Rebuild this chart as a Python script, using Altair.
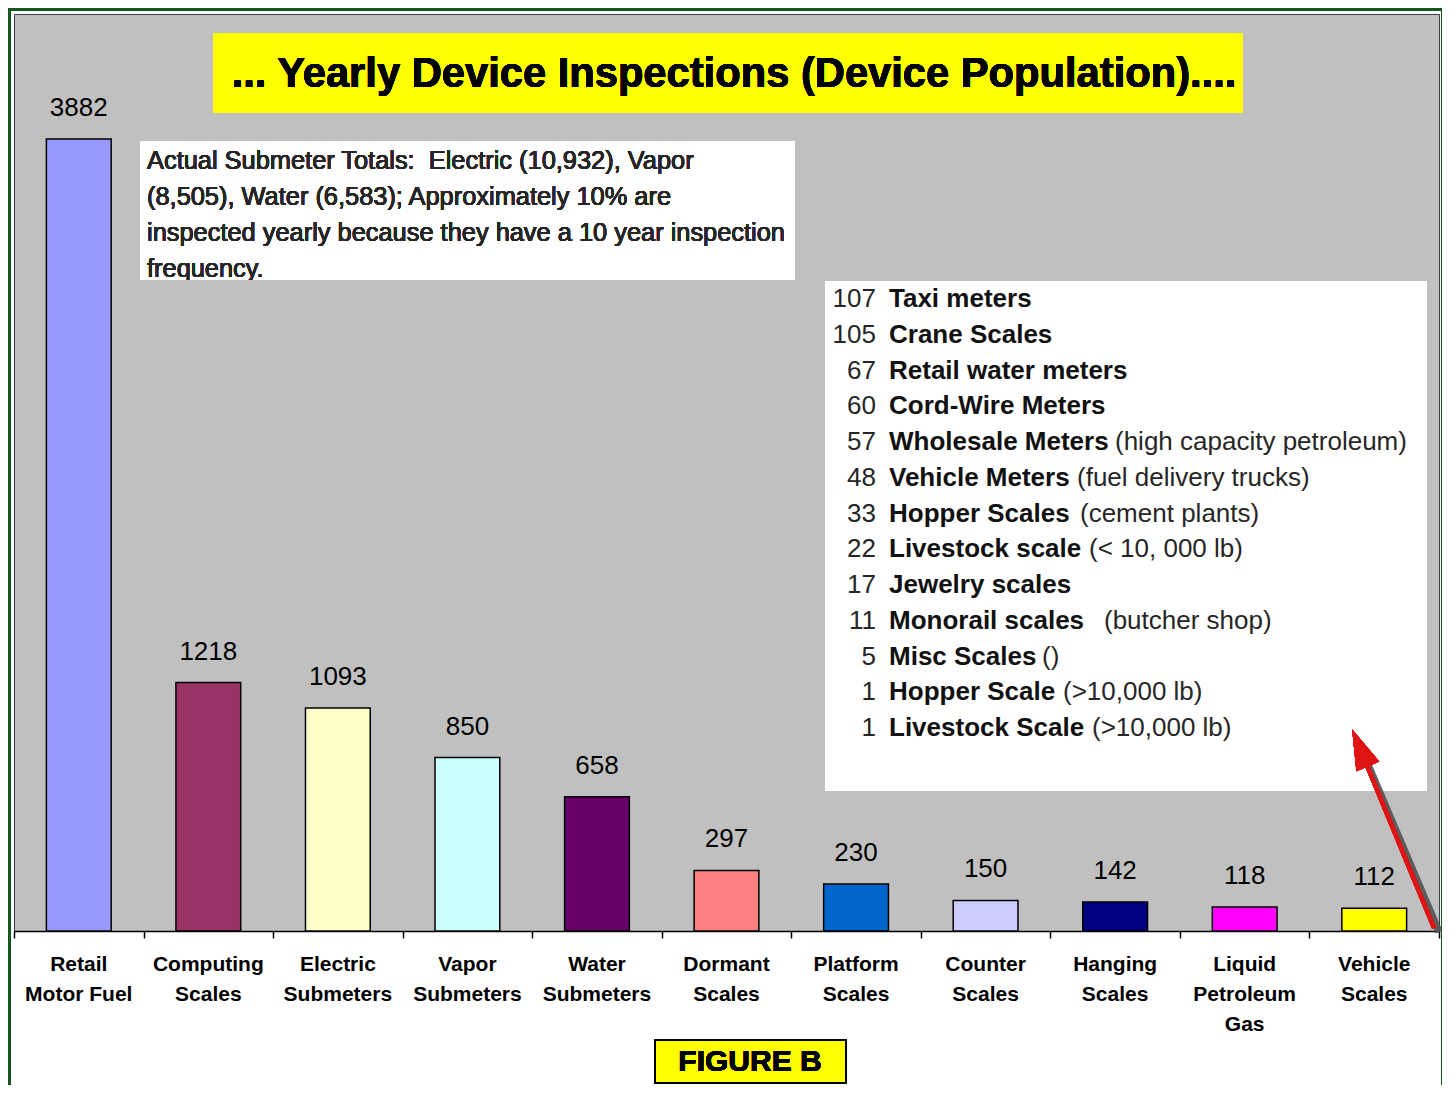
import altair as alt
import pandas as pd

# ---- data ----
categories = ["Retail\nMotor Fuel", "Computing\nScales", "Electric\nSubmeters",
              "Vapor\nSubmeters", "Water\nSubmeters", "Dormant\nScales",
              "Platform\nScales", "Counter\nScales", "Hanging\nScales",
              "Liquid\nPetroleum\nGas", "Vehicle\nScales"]
values = [3882, 1218, 1093, 850, 658, 297, 230, 150, 142, 118, 112]
bar_colors = ["#9999ff", "#993366", "#ffffcc", "#ccffff", "#660066", "#ff8080",
              "#0066cc", "#ccccff", "#000080", "#ff00ff", "#ffff00"]

other_counts = ["107", "105", "67", "60", "57", "48", "33", "22", "17", "11", "5", "1", "1"]
other_names = ["Taxi meters", "Crane Scales", "Retail water meters", "Cord-Wire Meters",
               "Wholesale Meters", "Vehicle Meters", "Hopper Scales", "Livestock scale",
               "Jewelry scales", "Monorail scales", "Misc Scales", "Hopper Scale",
               "Livestock Scale"]
other_notes = ["", "", "", "", "(high capacity petroleum)", "(fuel delivery trucks)",
               "(cement plants)", "(< 10, 000 lb)", "", "(butcher shop)", "()",
               "(>10,000 lb)", "(>10,000 lb)"]

note_lines = ["Actual Submeter Totals:\u00a0 Electric (10,932), Vapor",
              "(8,505), Water (6,583); Approximately 10% are",
              "inspected yearly because they have a 10 year inspection",
              "frequency."]
title_text = "... Yearly Device Inspections (Device Population)...."
figure_text = "FIGURE B"

# ---- layout (pixels, plot coordinates) ----
W, H = 1425, 917
Y_MAX = 4495
FONT = "Liberation Sans"
TXT = "#262626"
row_y = [285 + 35.75 * i for i in range(len(other_names))]
note_x = [0, 0, 0, 0, 1101, 1063, 1066, 1075, 0, 1090, 1028, 1049, 1078]

df = pd.DataFrame({"cat": categories, "value": values, "color": bar_colors})
box_df = pd.DataFrame({"count": other_counts, "name": other_names, "note": other_notes,
                       "py": row_y, "nx": note_x})

x_enc = alt.X("cat:N", sort=categories,
              scale=alt.Scale(paddingInner=0, paddingOuter=0),
              axis=alt.Axis(title=None, labels=False, tickBand="extent", tickSize=7,
                            tickColor="black", tickWidth=1.5, domainColor="black",
                            domainWidth=1.5, grid=False))
y_enc = alt.Y("value:Q", scale=alt.Scale(domain=[0, Y_MAX], nice=False, zero=True), axis=None)

base = alt.Chart(df)

border = alt.Chart(df).mark_rect(fillOpacity=0, stroke="#14561e", strokeWidth=4).encode(
    x=alt.value(-5), x2=alt.value(W + 4), y=alt.value(-5), y2=alt.value(1100))

title_box = alt.Chart(df).mark_rect(fill="#ffff00").encode(
    x=alt.value(199), x2=alt.value(1229), y=alt.value(19), y2=alt.value(99))
title = alt.Chart(df).mark_text(text=title_text, font=FONT, fontSize=41.7, fontWeight="bold",
                                color="black", align="center", baseline="middle").encode(
    x=alt.value(720), y=alt.value(60))

bars = base.mark_bar(width=alt.RelativeBandSize(0.5), stroke="black", strokeWidth=1.5).encode(
    x=x_enc, y=y_enc, color=alt.Color("color:N", scale=None))
vlabels = base.mark_text(font=FONT, fontSize=26, baseline="middle", dy=-31, color="black").encode(
    x=x_enc, y=y_enc, text=alt.Text("value:Q", format="d"))
xlabels = base.mark_text(font=FONT, fontSize=21, fontWeight="bold", lineBreak="\n",
                         lineHeight=30, baseline="top", color="black").encode(
    x=x_enc, y=alt.value(940), text="cat:N")

box1 = alt.Chart(df).mark_rect(fill="white").encode(
    x=alt.value(126), x2=alt.value(781), y=alt.value(127), y2=alt.value(266))
box1_text = alt.Chart(df).mark_text(text=note_lines, font=FONT, fontSize=25.4, lineHeight=36,
                                    align="left", baseline="middle", color=TXT).encode(
    x=alt.value(133), y=alt.value(147))
box1_mask = alt.Chart(df).mark_rect(fill="#c0c0c0").encode(
    x=alt.value(126), x2=alt.value(781), y=alt.value(266), y2=alt.value(282))

box2 = alt.Chart(df).mark_rect(fill="white").encode(
    x=alt.value(811), x2=alt.value(1413), y=alt.value(267), y2=alt.value(777))
b2 = alt.Chart(box_df)
counts = b2.mark_text(font=FONT, fontSize=26, align="right", baseline="middle", color=TXT).encode(
    x=alt.value(862), y=alt.Y("py:Q", scale=None, axis=None), text="count:N")
names = b2.mark_text(font=FONT, fontSize=26, fontWeight="bold", align="left", baseline="middle",
                     color="#111").encode(
    x=alt.value(875), y=alt.Y("py:Q", scale=None, axis=None), text="name:N")
notes = b2.transform_filter("datum.note != ''").mark_text(
    font=FONT, fontSize=26, align="left", baseline="middle", color=TXT).encode(
    x=alt.X("nx:Q", scale=None, axis=None), y=alt.Y("py:Q", scale=None, axis=None), text="note:N")

arrow_shadow = alt.Chart(df).mark_rule(color="#555", strokeWidth=7, opacity=0.2).encode(
    x=alt.value(1425), y=alt.value(918), x2=alt.value(1352), y2=alt.value(746))
arrow = alt.Chart(df).mark_rule(color="#e01414", strokeWidth=4).encode(
    x=alt.value(1420), y=alt.value(914), x2=alt.value(1349), y2=alt.value(742))
arrow_head = alt.Chart(df).mark_point(shape="M0,-1L0.62,1L-0.62,1Z", filled=True, color="#e01414",
                                      opacity=1, size=1600, angle=337).encode(
    x=alt.value(1346), y=alt.value(734))

fig_box = alt.Chart(df).mark_rect(fill="#ffff00", stroke="black", strokeWidth=2).encode(
    x=alt.value(641), x2=alt.value(832), y=alt.value(1026), y2=alt.value(1069))
fig_text = alt.Chart(df).mark_text(text=figure_text, font=FONT, fontSize=30, fontWeight="bold",
                                   color="black", align="center", baseline="middle").encode(
    x=alt.value(736), y=alt.value(1048))

chart = alt.layer(
    border, title_box, title, bars, vlabels, xlabels, box1, box1_text, box1_mask,
    box2, counts, names, notes, arrow_shadow, arrow, arrow_head, fig_box, fig_text
).properties(
    width=W, height=H,
    autosize=alt.AutoSizeParams(type="none"),
    padding={"left": 6, "top": 6, "right": 3, "bottom": 154},
    background="white",
).configure_view(fill="#c0c0c0", stroke="#404040", strokeWidth=1)

chart.save("out.html", embed_options={"renderer": "svg", "actions": False})
